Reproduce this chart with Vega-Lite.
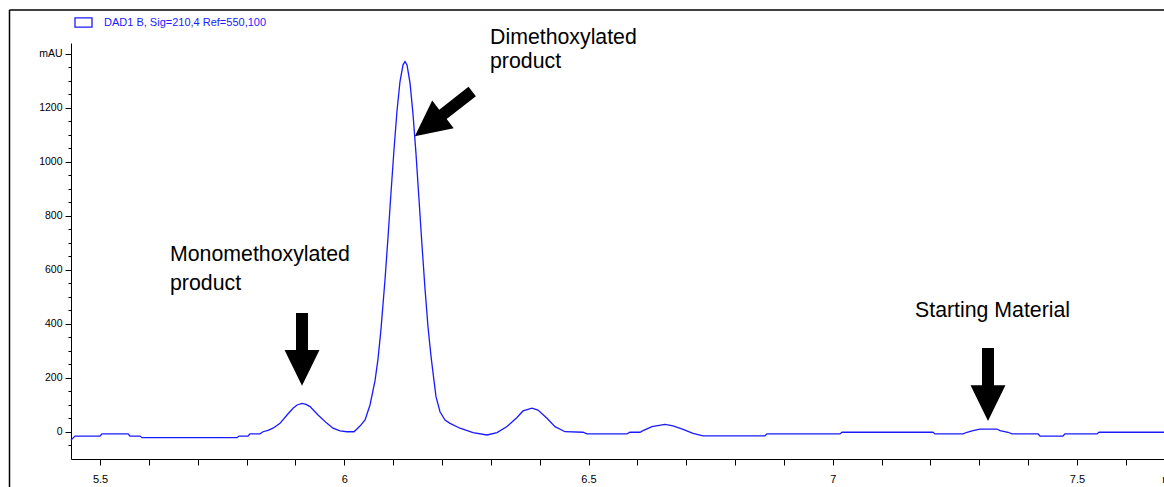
{
  "$schema": "https://vega.github.io/schema/vega-lite/v6.json",
  "width": 1093,
  "height": 416,
  "autosize": {"type": "none"},
  "padding": {"left": 71, "top": 43, "right": 0, "bottom": 28},
  "background": "white",
  "config": {"view": {"stroke": null}, "font": "Liberation Sans"},
  "datasets": {
    "signal": [
      {"time": 5.4406, "mAU": -30}, {"time": 5.4488, "mAU": -15}, {"time": 5.5, "mAU": -15}, {"time": 5.5041, "mAU": -7},
      {"time": 5.5573, "mAU": -7}, {"time": 5.5614, "mAU": -15}, {"time": 5.5819, "mAU": -15}, {"time": 5.586, "mAU": -21},
      {"time": 5.7805, "mAU": -21}, {"time": 5.7845, "mAU": -15}, {"time": 5.803, "mAU": -15}, {"time": 5.8071, "mAU": -7},
      {"time": 5.8275, "mAU": -7}, {"time": 5.8337, "mAU": 1}, {"time": 5.8439, "mAU": 6}, {"time": 5.8541, "mAU": 14},
      {"time": 5.8685, "mAU": 32}, {"time": 5.8828, "mAU": 63}, {"time": 5.8951, "mAU": 88}, {"time": 5.9033, "mAU": 100},
      {"time": 5.9135, "mAU": 106}, {"time": 5.9217, "mAU": 102}, {"time": 5.9299, "mAU": 94}, {"time": 5.9463, "mAU": 63},
      {"time": 5.9647, "mAU": 32}, {"time": 5.977, "mAU": 14}, {"time": 5.9913, "mAU": 4}, {"time": 6.0056, "mAU": 1},
      {"time": 6.02, "mAU": 1}, {"time": 6.0322, "mAU": 22}, {"time": 6.0425, "mAU": 45}, {"time": 6.0527, "mAU": 100},
      {"time": 6.063, "mAU": 190}, {"time": 6.0691, "mAU": 271}, {"time": 6.0752, "mAU": 381}, {"time": 6.0834, "mAU": 564},
      {"time": 6.0896, "mAU": 722}, {"time": 6.0957, "mAU": 887}, {"time": 6.1019, "mAU": 1048}, {"time": 6.108, "mAU": 1190},
      {"time": 6.1141, "mAU": 1298}, {"time": 6.1203, "mAU": 1360}, {"time": 6.1244, "mAU": 1372}, {"time": 6.1285, "mAU": 1359},
      {"time": 6.1346, "mAU": 1293}, {"time": 6.1407, "mAU": 1178}, {"time": 6.1469, "mAU": 1029}, {"time": 6.153, "mAU": 861},
      {"time": 6.1592, "mAU": 690}, {"time": 6.1653, "mAU": 530}, {"time": 6.1714, "mAU": 390}, {"time": 6.1776, "mAU": 280},
      {"time": 6.1837, "mAU": 190}, {"time": 6.1878, "mAU": 131}, {"time": 6.196, "mAU": 75}, {"time": 6.2062, "mAU": 44},
      {"time": 6.2165, "mAU": 32}, {"time": 6.237, "mAU": 14}, {"time": 6.2636, "mAU": -2}, {"time": 6.2922, "mAU": -11},
      {"time": 6.3127, "mAU": -2}, {"time": 6.3332, "mAU": 20}, {"time": 6.3536, "mAU": 54}, {"time": 6.3659, "mAU": 78},
      {"time": 6.3843, "mAU": 88}, {"time": 6.3966, "mAU": 81}, {"time": 6.415, "mAU": 51}, {"time": 6.4314, "mAU": 20},
      {"time": 6.4519, "mAU": 1}, {"time": 6.4887, "mAU": -1}, {"time": 6.4969, "mAU": -7}, {"time": 6.5788, "mAU": -7},
      {"time": 6.585, "mAU": -1}, {"time": 6.6054, "mAU": -1}, {"time": 6.6116, "mAU": 5}, {"time": 6.63, "mAU": 20},
      {"time": 6.6566, "mAU": 28}, {"time": 6.673, "mAU": 23}, {"time": 6.6935, "mAU": 10}, {"time": 6.7139, "mAU": -5},
      {"time": 6.7344, "mAU": -14}, {"time": 6.8613, "mAU": -14}, {"time": 6.8654, "mAU": -7}, {"time": 7.0149, "mAU": -7},
      {"time": 7.0189, "mAU": -1}, {"time": 7.2052, "mAU": -1}, {"time": 7.2093, "mAU": -7}, {"time": 7.2666, "mAU": -7},
      {"time": 7.2748, "mAU": -1}, {"time": 7.2871, "mAU": 5}, {"time": 7.3014, "mAU": 11}, {"time": 7.3362, "mAU": 11},
      {"time": 7.3424, "mAU": 5}, {"time": 7.3588, "mAU": -1}, {"time": 7.3669, "mAU": -7}, {"time": 7.4202, "mAU": -7},
      {"time": 7.4243, "mAU": -15}, {"time": 7.4714, "mAU": -15}, {"time": 7.4754, "mAU": -7}, {"time": 7.541, "mAU": -7},
      {"time": 7.545, "mAU": -1}, {"time": 7.6781, "mAU": -1}
    ],
    "arrows": [
      {"peak": "Monomethoxylated product", "time": 5.9135, "mAU": 306},
      {"peak": "Dimethoxylated product", "time": 6.2032, "mAU": 1178},
      {"peak": "Starting Material", "time": 7.3178, "mAU": 176}
    ],
    "labels": [
      {"text": "Dimethoxylated", "time": 6.2984, "mAU": 1459},
      {"text": "product", "time": 6.2984, "mAU": 1370},
      {"text": "Monomethoxylated", "time": 5.6433, "mAU": 656},
      {"text": "product", "time": 5.6433, "mAU": 548},
      {"text": "Starting Material", "time": 7.1684, "mAU": 448}
    ],
    "frame": [
      {"edge": "top", "time": 5.3147, "time2": 7.75, "mAU": 1563, "mAU2": 1563},
      {"edge": "left", "time": 5.3147, "time2": 5.3147, "mAU": 1563, "mAU2": -250}
    ]
  },
  "encoding": {
    "x": {
      "field": "time",
      "type": "quantitative",
      "scale": {"domain": [5.4406, 7.6781], "nice": false, "zero": false},
      "axis": {
        "title": null,
        "grid": false,
        "values": [5.5, 5.6, 5.7, 5.8, 5.9, 6, 6.1, 6.2, 6.3, 6.4, 6.5, 6.6, 6.7, 6.8, 6.9, 7, 7.1, 7.2, 7.3, 7.4, 7.5, 7.6, 7.6733],
        "labelExpr": "datum.value > 7.65 ? 'min' : (abs(datum.value * 2 - round(datum.value * 2)) < 0.001 ? format(datum.value, '~g') : '')",
        "labelAlign": {"condition": {"test": "datum.value > 7.65", "value": "left"}, "value": "center"},
        "tickOpacity": {"condition": {"test": "datum.value > 7.65", "value": 0}, "value": 1},
        "tickSize": 6,
        "tickColor": "black",
        "domainColor": "black",
        "labelColor": "black",
        "labelFont": "Liberation Sans",
        "labelFontSize": 11,
        "labelPadding": 8,
        "labelFlush": false,
        "labelOverlap": false,
        "labelBound": false
      }
    },
    "y": {
      "field": "mAU",
      "type": "quantitative",
      "scale": {"domain": [-100, 1440.7], "nice": false, "zero": false},
      "axis": {
        "title": null,
        "grid": false,
        "values": [-50, 0, 50, 100, 150, 200, 250, 300, 350, 400, 450, 500, 550, 600, 650, 700, 750, 800, 850, 900, 950, 1000, 1050, 1100, 1150, 1200, 1250, 1300, 1350, 1400],
        "labelExpr": "datum.value == 1400 ? 'mAU' : (datum.value % 200 == 0 ? format(datum.value, 'd') : '')",
        "tickSize": {"condition": {"test": "datum.value % 200 == 0", "value": 6}, "value": 3},
        "tickColor": "black",
        "domainColor": "black",
        "labelColor": "black",
        "labelFont": "Liberation Sans",
        "labelFontSize": 10.5,
        "labelPadding": 3,
        "labelOverlap": false,
        "labelBound": false,
        "labelFlush": false
      }
    }
  },
  "layer": [
    {
      "data": {"name": "frame"},
      "mark": {"type": "rule", "stroke": "black", "strokeWidth": 1.5, "clip": false},
      "encoding": {
        "x2": {"field": "time2"},
        "y2": {"field": "mAU2"}
      }
    },
    {
      "data": {"name": "signal"},
      "mark": {"type": "line", "strokeWidth": 1.3, "interpolate": "linear"},
      "encoding": {
        "color": {
          "datum": "DAD1 B, Sig=210,4 Ref=550,100",
          "scale": {"range": ["#1a1aff"]},
          "legend": {
            "orient": "none",
            "legendX": 3,
            "legendY": -30,
            "title": null,
            "padding": 0,
            "symbolType": "M-1,-0.55H1V0.55H-1Z",
            "symbolSize": 289,
            "symbolFillColor": "white",
            "symbolStrokeColor": "#1a1aff",
            "symbolStrokeWidth": 1.3,
            "labelFont": "Liberation Sans",
            "labelFontSize": 11,
            "labelLimit": 400,
            "labelColor": "#1a1aff",
            "labelOffset": 11
          }
        }
      }
    },
    {
      "data": {"name": "arrows"},
      "transform": [{"filter": "datum.peak != 'Dimethoxylated product'"}],
      "mark": {"type": "point", "shape": "M-0.165,-1L0.165,-1L0.165,0.02L0.48,0.02L0,1L-0.48,0.02L-0.165,0.02Z", "filled": true, "color": "black", "opacity": 1, "size": 5300, "strokeWidth": 0}
    },
    {
      "data": {"name": "arrows"},
      "transform": [{"filter": "datum.peak == 'Dimethoxylated product'"}],
      "mark": {"type": "point", "shape": "M-0.165,-1L0.165,-1L0.165,0.02L0.48,0.02L0,1L-0.48,0.02L-0.165,0.02Z", "filled": true, "color": "black", "opacity": 1, "size": 5300, "strokeWidth": 0, "angle": 52}
    },
    {
      "data": {"name": "labels"},
      "mark": {"type": "text", "align": "left", "baseline": "middle", "font": "Liberation Sans", "fontSize": 21.3, "color": "black"},
      "encoding": {"text": {"field": "text"}}
    }
  ]
}
